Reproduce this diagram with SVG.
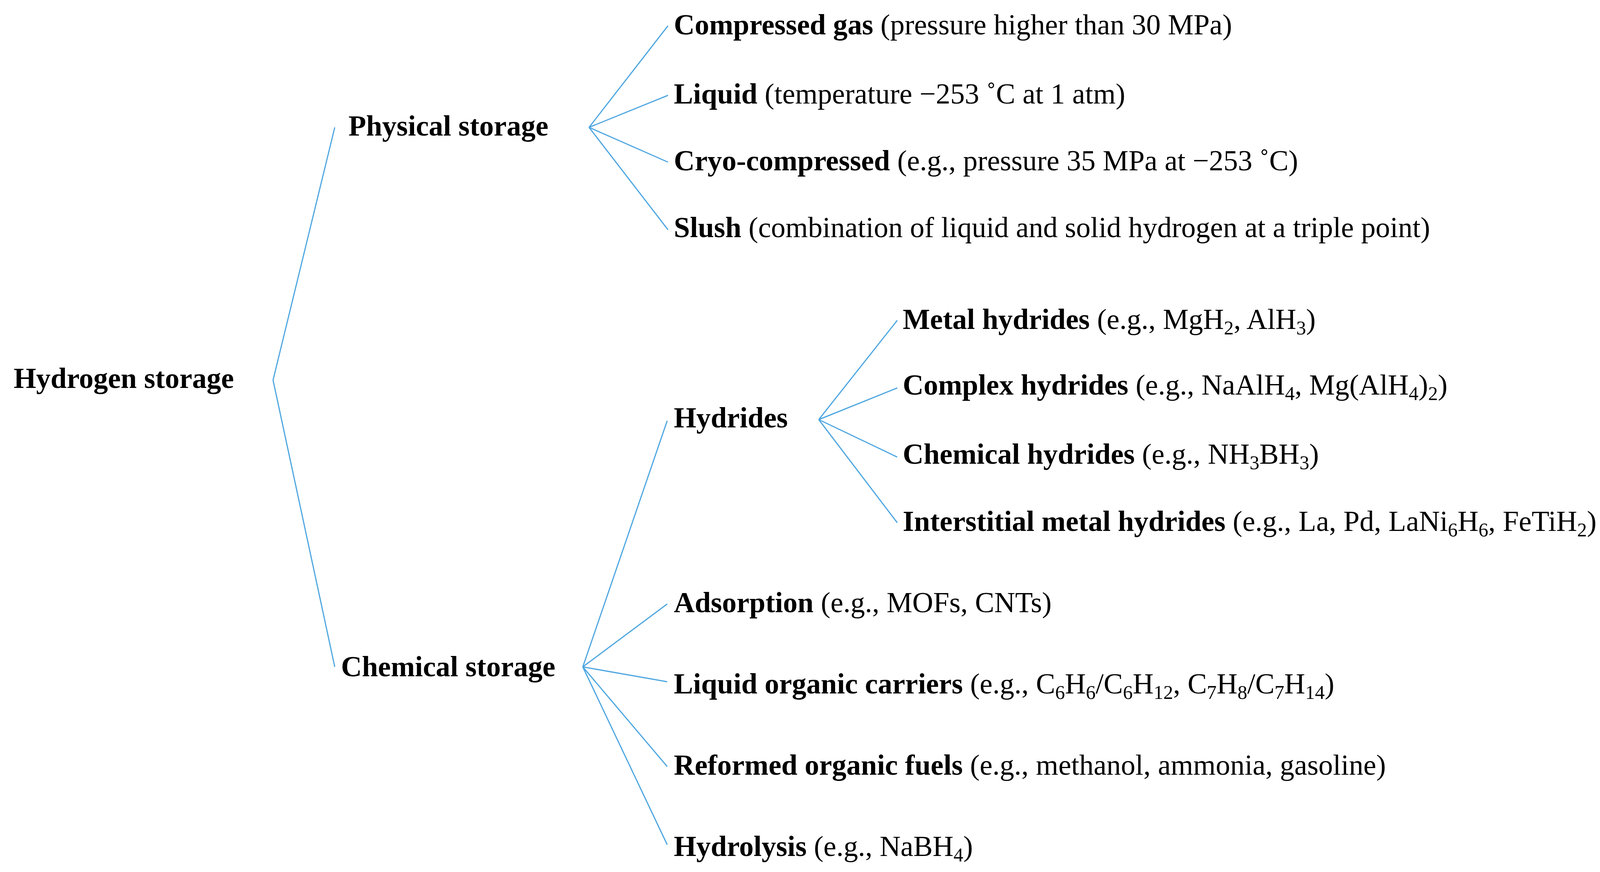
<svg xmlns="http://www.w3.org/2000/svg" width="4331" height="2232" viewBox="0 0 4331 2232">
<style>
text{font-family:"Liberation Serif","DejaVu Serif",serif;font-size:74px;fill:#000}
.b{font-weight:bold}
.s{font-size:50px;baseline-shift:-14px}
line{stroke:#4da6e0;stroke-width:3;fill:none}
</style>
<rect width="4331" height="2232" fill="#fff"/>
<g id="connectors">
<line x1="699" y1="973" x2="857" y2="326"/>
<line x1="699" y1="973" x2="857" y2="1707"/>
<line x1="1508" y1="326" x2="1710" y2="66"/>
<line x1="1508" y1="326" x2="1710" y2="244"/>
<line x1="1508" y1="326" x2="1710" y2="415"/>
<line x1="1508" y1="326" x2="1710" y2="588"/>
<line x1="1492" y1="1707" x2="1708" y2="1077"/>
<line x1="1492" y1="1707" x2="1708" y2="1546"/>
<line x1="1492" y1="1707" x2="1708" y2="1745"/>
<line x1="1492" y1="1707" x2="1708" y2="1962"/>
<line x1="1492" y1="1707" x2="1708" y2="2162"/>
<line x1="2096" y1="1074" x2="2297" y2="820"/>
<line x1="2096" y1="1074" x2="2297" y2="993"/>
<line x1="2096" y1="1074" x2="2297" y2="1170"/>
<line x1="2096" y1="1074" x2="2297" y2="1338"/>
</g>
<g id="root"><text x="35" y="993" class="b">Hydrogen storage</text></g>
<g id="physical"><text x="892" y="347" class="b">Physical storage</text></g>
<g id="compressed"><text x="1725" y="88"><tspan class="b">Compressed gas</tspan> (pressure higher than 30 MPa)</text></g>
<g id="liquid"><text x="1725" y="265"><tspan class="b">Liquid</tspan> (temperature −253 ˚C at 1 atm)</text></g>
<g id="cryo"><text x="1725" y="436"><tspan class="b">Cryo-compressed</tspan> (e.g., pressure 35 MPa at −253 ˚C)</text></g>
<g id="slush"><text x="1725" y="607"><tspan class="b">Slush</tspan> (combination of liquid and solid hydrogen at a triple point)</text></g>
<g id="chemical"><text x="873" y="1731" class="b">Chemical storage</text></g>
<g id="hydrides"><text x="1725" y="1094" class="b">Hydrides</text></g>
<g id="metal"><text x="2311" y="842"><tspan class="b">Metal hydrides</tspan> (e.g., MgH<tspan class="s">2</tspan>, AlH<tspan class="s">3</tspan>)</text></g>
<g id="complex"><text x="2311" y="1010"><tspan class="b">Complex hydrides</tspan> (e.g., NaAlH<tspan class="s">4</tspan>, Mg(AlH<tspan class="s">4</tspan>)<tspan class="s">2</tspan>)</text></g>
<g id="chemhyd"><text x="2311" y="1187"><tspan class="b">Chemical hydrides</tspan> (e.g., NH<tspan class="s">3</tspan>BH<tspan class="s">3</tspan>)</text></g>
<g id="interstitial"><text x="2311" y="1359"><tspan class="b">Interstitial metal hydrides</tspan> (e.g., La, Pd, LaNi<tspan class="s">6</tspan>H<tspan class="s">6</tspan>, FeTiH<tspan class="s">2</tspan>)</text></g>
<g id="adsorption"><text x="1725" y="1567"><tspan class="b">Adsorption</tspan> (e.g., MOFs, CNTs)</text></g>
<g id="loc"><text x="1725" y="1775"><tspan class="b">Liquid organic carriers</tspan> (e.g., C<tspan class="s">6</tspan>H<tspan class="s">6</tspan>/C<tspan class="s">6</tspan>H<tspan class="s">12</tspan>, C<tspan class="s">7</tspan>H<tspan class="s">8</tspan>/C<tspan class="s">7</tspan>H<tspan class="s">14</tspan>)</text></g>
<g id="reformed"><text x="1725" y="1983"><tspan class="b">Reformed organic fuels</tspan> (e.g., methanol, ammonia, gasoline)</text></g>
<g id="hydrolysis"><text x="1725" y="2191"><tspan class="b">Hydrolysis</tspan> (e.g., NaBH<tspan class="s">4</tspan>)</text></g>
</svg>
